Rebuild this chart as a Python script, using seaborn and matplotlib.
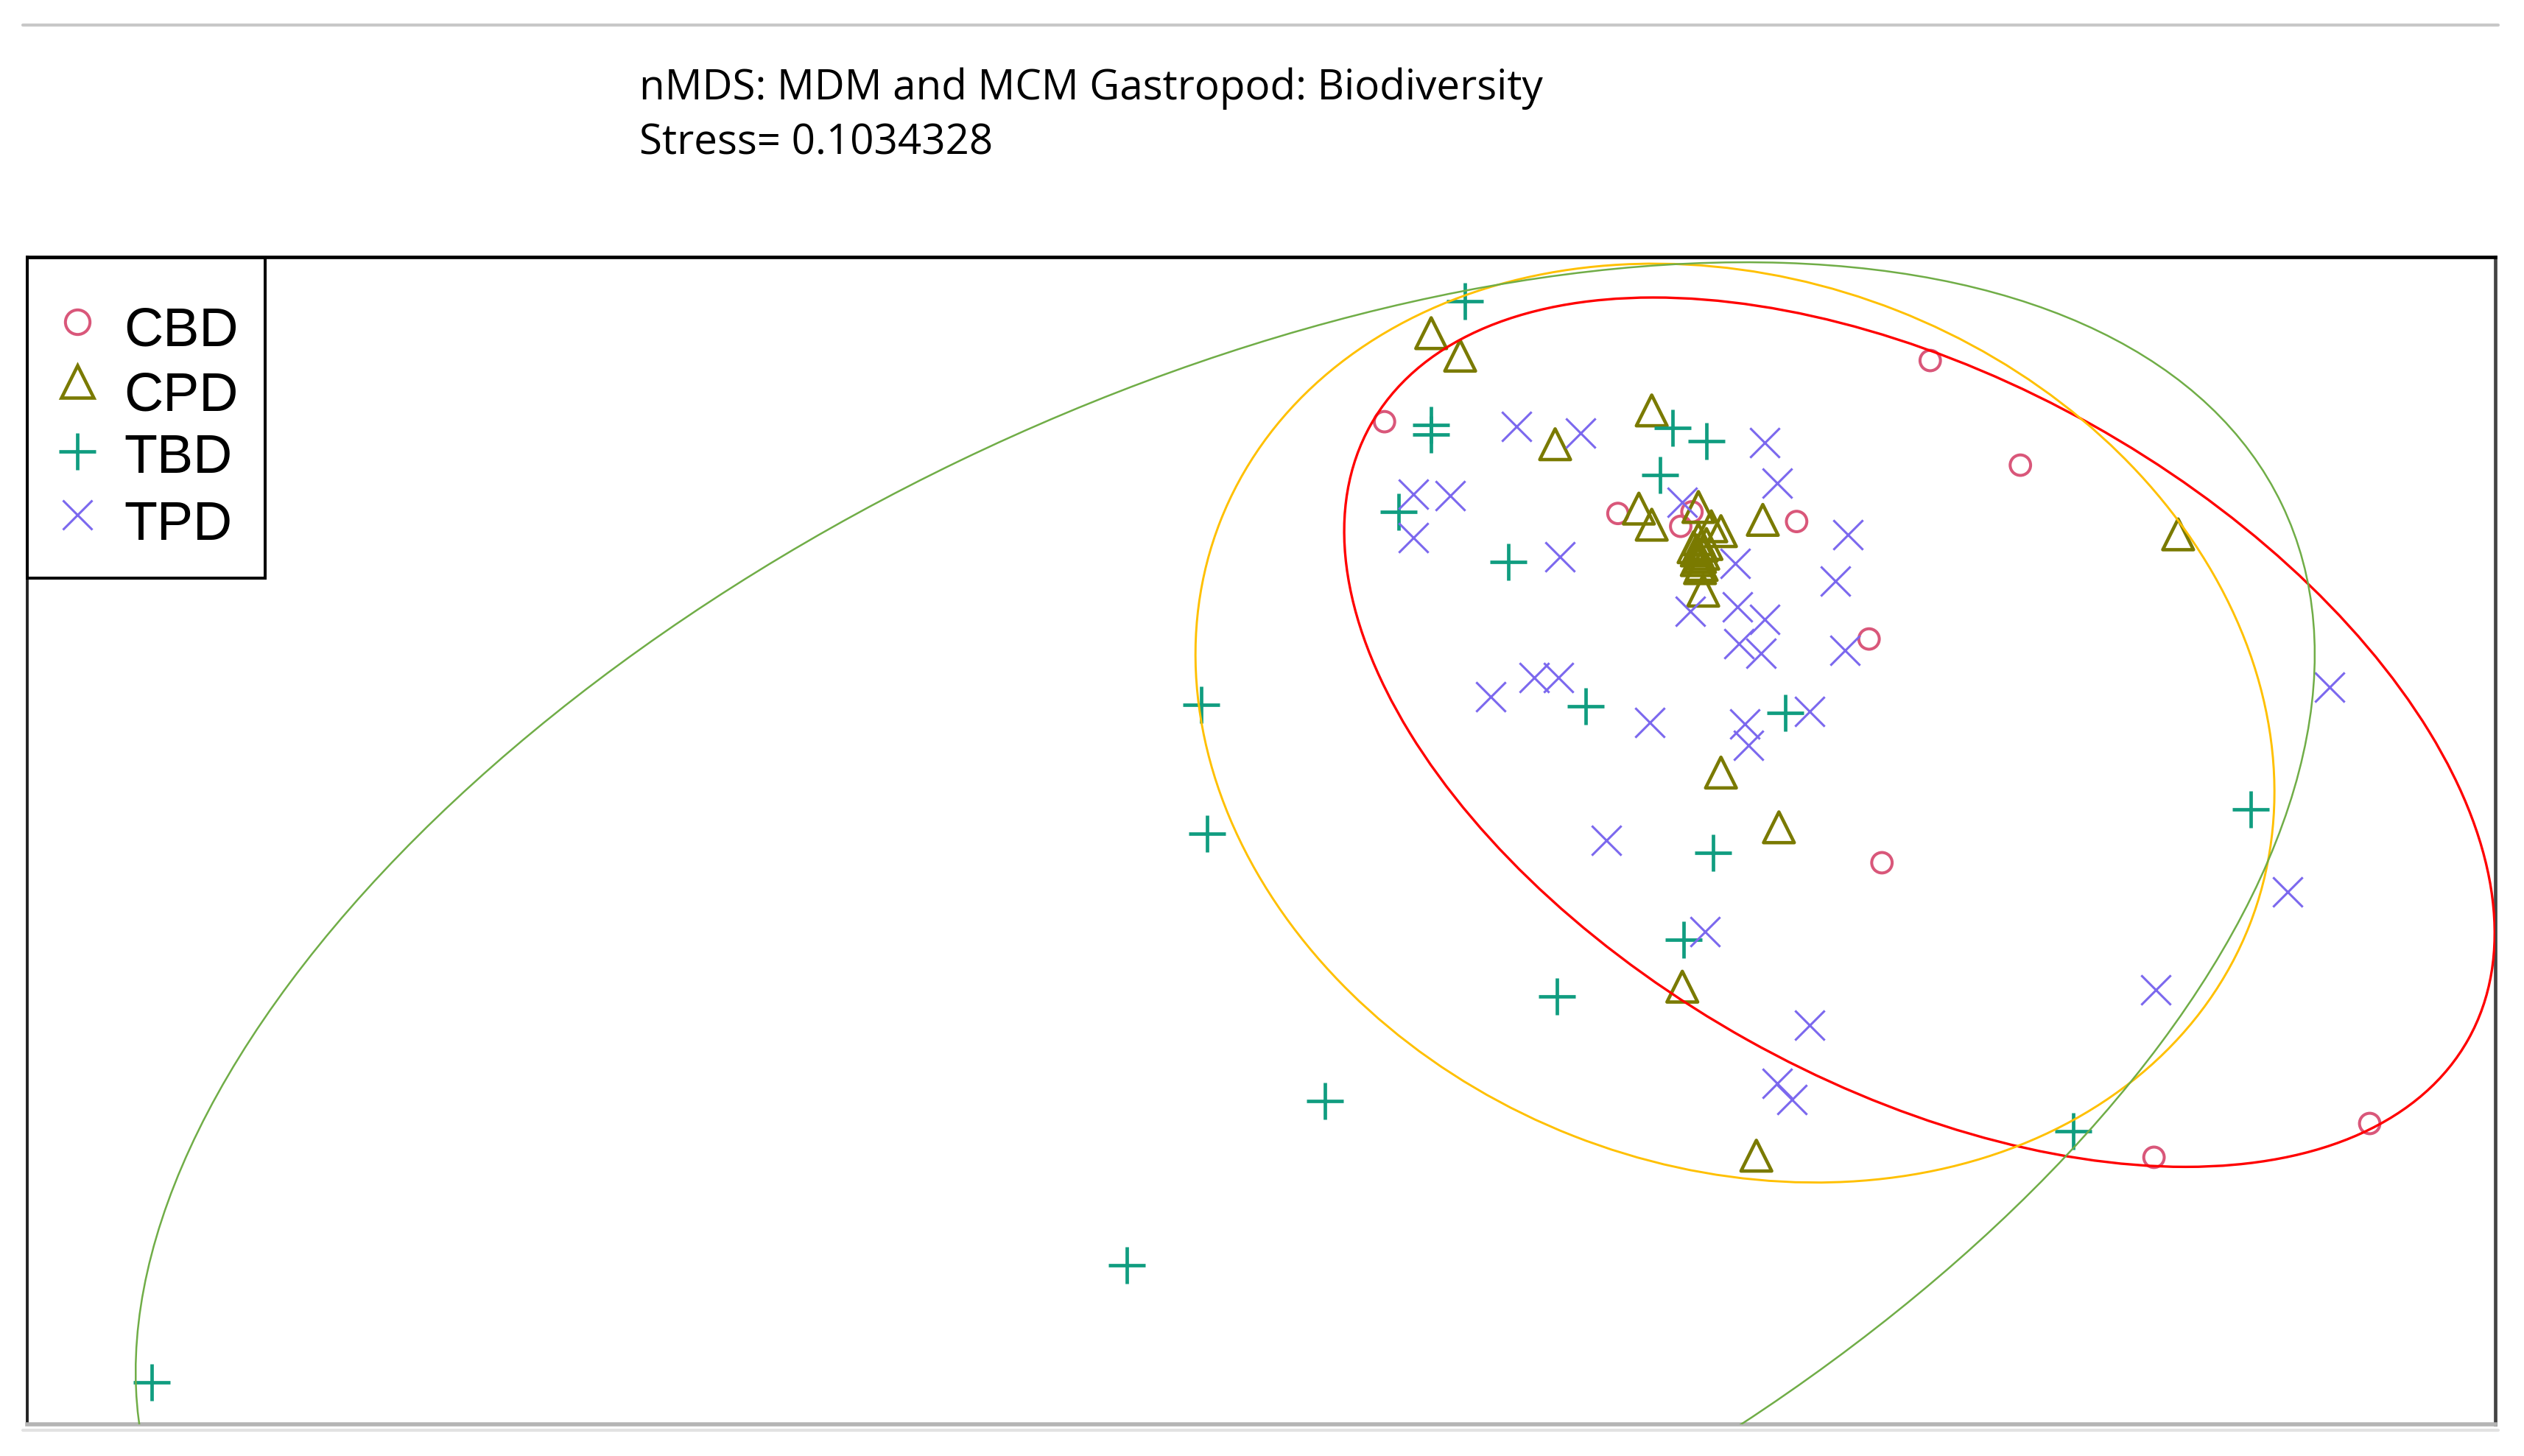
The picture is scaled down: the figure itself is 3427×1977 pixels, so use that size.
import numpy as np
import pandas as pd
import matplotlib
matplotlib.use("Agg")
import matplotlib.pyplot as plt
import seaborn as sns
from matplotlib.patches import Ellipse, Rectangle
from matplotlib.lines import Line2D

sns.set_theme(style="white")
plt.rcParams['font.family'] = ['Liberation Sans', 'DejaVu Sans']

# ---------------- data (NMDS scores) ----------------
groups = ["CBD", "CPD", "TBD", "TPD"]

cbd_x = [-0.280, 0.398, 0.510, 0.010, 0.088, 0.102, 0.232, 0.322, 0.338, 0.676, 0.944]
cbd_y = [0.476, 0.552, 0.422, 0.362, 0.346, 0.364, 0.352, 0.206, -0.072, -0.438, -0.396]

cpd_x = [-0.222, -0.186, 0.052, -0.068, 0.036, 0.052, 0.110, 0.126, 0.138, 0.190,
         0.110, 0.114, 0.108, 0.116, 0.112, 0.114, 0.108, 0.104, 0.120, 0.112,
         0.116, 0.706, 0.138, 0.210, 0.090, 0.182]
cpd_y = [0.586, 0.558, 0.490, 0.448, 0.368, 0.348, 0.370, 0.346, 0.340, 0.354,
         0.330, 0.322, 0.316, 0.312, 0.308, 0.298, 0.304, 0.320, 0.324, 0.294,
         0.266, 0.336, 0.040, -0.028, -0.226, -0.436]

tbd_x = [-0.180, -0.222, -0.222, 0.078, 0.120, 0.062, -0.262, -0.126, -0.508, -0.030,
         0.218, -0.500, 0.128, 0.092, -0.066, -0.354, -0.600, -1.812, 0.576, 0.796]
tbd_y = [0.626, 0.472, 0.460, 0.468, 0.452, 0.410, 0.364, 0.302, 0.124, 0.122,
         0.114, -0.036, -0.060, -0.168, -0.238, -0.368, -0.572, -0.718, -0.406, -0.006]

tpd_x = [-0.116, -0.036, 0.192, 0.208, -0.244, -0.198, -0.244, -0.062, 0.090, 0.296,
         0.156, 0.280, 0.100, 0.158, 0.192, 0.160, 0.188, 0.292, 0.894, 0.050,
         0.168, 0.172, 0.248, -0.148, -0.094, -0.064, -0.004, 0.118, 0.248, 0.208,
         0.226, 0.842, 0.678]
tpd_y = [0.470, 0.462, 0.450, 0.400, 0.386, 0.384, 0.332, 0.308, 0.376, 0.336,
         0.300, 0.278, 0.240, 0.246, 0.230, 0.200, 0.188, 0.192, 0.146, 0.102,
         0.100, 0.074, 0.116, 0.134, 0.158, 0.158, -0.044, -0.158, -0.274, -0.346,
         -0.366, -0.108, -0.230]

# group ellipses (centre, semi-axes, rotation in degrees)
ell_groups = ["CBD", "CPD", "TBD"]
ell_cx = [0.3846, 0.1554, -0.4779]
ell_cy = [0.0902, 0.1015, -0.2589]
ell_a = [0.7814, 0.6868, 1.4570]
ell_b = [0.4380, 0.5508, 0.7615]
ell_angle = [-29.23, -21.44, 25.72]

title_line1 = "nMDS: MDM and MCM Gastropod: Biodiversity"
title_line2 = "Stress= 0.1034328"

# ---------------- styling ----------------
colors = {"CBD": "#D9577A", "CPD": "#7A7A00", "TBD": "#109D80", "TPD": "#7B68EE"}
ell_colors = {"CBD": "#FF0000", "CPD": "#FFC000", "TBD": "#70AD47"}
ell_lw = {"CBD": 2.4, "CPD": 2.1, "TBD": 1.8}

frames = []
for g, xs, ys in [("CBD", cbd_x, cbd_y), ("CPD", cpd_x, cpd_y),
                  ("TBD", tbd_x, tbd_y), ("TPD", tpd_x, tpd_y)]:
    frames.append(pd.DataFrame({"NMDS1": xs, "NMDS2": ys, "group": g}))
df = pd.concat(frames, ignore_index=True)

W, H = 3427, 1977
fig = plt.figure(figsize=(W / 100, H / 100), dpi=100)
ax_left, ax_top, ax_right, ax_bottom = 37, 349, 3388, 1934
ax = fig.add_axes([ax_left / W, 1 - ax_bottom / H, (ax_right - ax_left) / W, (ax_bottom - ax_top) / H])

styles = {
    "CBD": dict(marker="o", s=20 ** 2, facecolor="none", edgecolor=colors["CBD"], linewidths=2.9),
    "CPD": dict(marker="^", s=30 ** 2, facecolor="none", edgecolor=colors["CPD"], linewidths=3.3),
    "TBD": dict(marker="+", s=36 ** 2, linewidths=3.4),
    "TPD": dict(marker="x", s=29 ** 2, linewidths=2.2),
}
for g in groups:
    sub = df[df["group"] == g]
    sns.scatterplot(data=sub, x="NMDS1", y="NMDS2", ax=ax, legend=False,
                    color=colors[g], zorder=2, **styles[g])

for g, cx, cy, a, b, ang in zip(ell_groups, ell_cx, ell_cy, ell_a, ell_b, ell_angle):
    ax.add_patch(Ellipse((cx, cy), 2 * a, 2 * b, angle=ang, fill=False,
                         edgecolor=ell_colors[g], lw=ell_lw[g], zorder=3))

ax.set_xlim((16.9 - 1000) * 0.002, (1550 - 1000) * 0.002)
ax.set_ylim((500 - 884.9) * 0.002, (500 - 159.7) * 0.002)
ax.set_xticks([])
ax.set_yticks([])
ax.set_xlabel("")
ax.set_ylabel("")
for side, col, lw in [("top", "black", 3.4), ("left", "#222222", 2.8),
                      ("right", "#444444", 3.4), ("bottom", "#B4B4B4", 4.0)]:
    ax.spines[side].set_visible(True)
    ax.spines[side].set_color(col)
    ax.spines[side].set_linewidth(lw)

# ---------------- legend (box in the top-left corner) ----------------
aw, ah = ax_right - ax_left, ax_bottom - ax_top


def axx(px):
    return (px - ax_left) / aw


def axy(py):
    return (ax_bottom - py) / ah


ax.add_patch(Rectangle((0, axy(785)), axx(360), axy(350) - axy(785), transform=ax.transAxes,
                       facecolor="white", edgecolor="black", lw=2.9, zorder=5, clip_on=False))
leg_marker_y = [437, 518, 613, 699]
leg_text_y = [470, 557, 642, 733]
leg_marker_kw = {
    "CBD": dict(marker="o", ms=24, mfc="none", mec=colors["CBD"], mew=2.9),
    "CPD": dict(marker="^", ms=31, mfc="none", mec=colors["CPD"], mew=3.3),
    "TBD": dict(marker="+", ms=36, color=colors["TBD"], mew=3.4),
    "TPD": dict(marker="x", ms=29, color=colors["TPD"], mew=2.2),
}
for g, my, ty in zip(groups, leg_marker_y, leg_text_y):
    ax.plot([axx(105)], [axy(my)], ls="none", transform=ax.transAxes, clip_on=False,
            zorder=6, **leg_marker_kw[g])
    ax.text(axx(168), axy(ty), g, transform=ax.transAxes, fontsize=53, va="baseline",
            ha="left", color="black", zorder=6)

# ---------------- titles ----------------
t1 = fig.text(868 / W, 1 - 135 / H, title_line1, fontsize=34, va="baseline", ha="left",
              family=["Open Sans", "DejaVu Sans"], color="black")
fig.canvas.draw()
bb = t1.get_window_extent()
fs = 34 * (2095 - 868) / bb.width
t1.set_fontsize(fs)
fig.text(868 / W, 1 - 209 / H, title_line2, fontsize=fs, va="baseline", ha="left",
         family=["Open Sans", "DejaVu Sans"], color="black")

# page rules of the screenshot
fig.add_artist(Line2D([31 / W, 3392 / W], [1 - 34 / H] * 2, color="#C8C8C8", lw=3))
fig.add_artist(Line2D([31 / W, 3392 / W], [1 - 1942 / H] * 2, color="#E2E2E2", lw=3))

fig.savefig("out.png", dpi=100)
